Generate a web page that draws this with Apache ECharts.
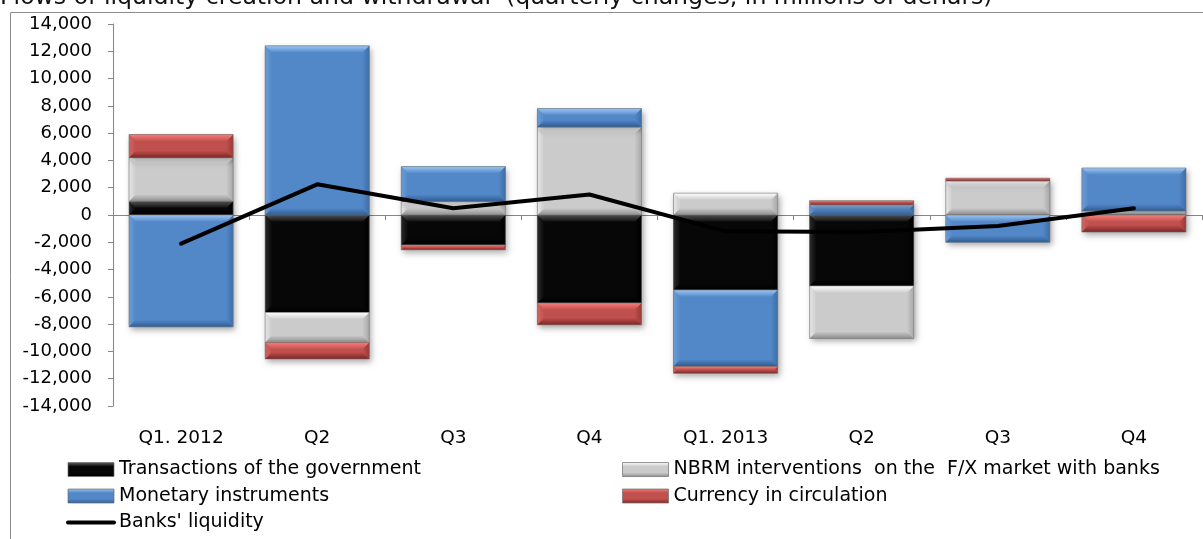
<!DOCTYPE html>
<html>
<head>
<meta charset="utf-8">
<title>Flows of liquidity creation and withdrawal</title>
<script src="https://cdn.jsdelivr.net/npm/echarts@6/dist/echarts.min.js"></script>
<style>
  html, body { margin: 0; padding: 0; background: #ffffff; }
  #chart { width: 1203px; height: 539px; }
</style>
</head>
<body>
<div id="chart"></div>
<script>
// Quarterly changes, millions of denars
const categories = ['Q1. 2012', 'Q2', 'Q3', 'Q4', 'Q1. 2013', 'Q2', 'Q3', 'Q4'];
const government = [1000, -7150, -2200, -6450, -5500, -5200, 0, 0];
const fxInterventions = [3200, -2200, 1000, 6450, 1600, -3850, 2500, 300];
const monetaryInstruments = [-8200, 12400, 2550, 1350, -5600, 750, -2000, 3150];
const currencyInCirculation = [1700, -1200, -350, -1600, -500, 300, 200, -1250];
const banksLiquidity = [-2100, 2250, 500, 1500, -1200, -1250, -800, 500];
const yMin = -14000;
const yMax = 14000;
const yStep = 2000;

const FONT = 'DejaVu Sans';
const AXIS_GREY = '#868686';

const seriesDefs = [
  { name: 'Transactions of the government', values: government,
    pal: { base: '#070707', light: '#6a6a6a', dark: '#000000', left: '#2a2a2a', right: '#000000' } },
  { name: 'NBRM interventions  on the  F/X market with banks', values: fxInterventions,
    pal: { base: '#cbcbcb', light: '#ffffff', dark: '#8e8e8e', left: '#e6e6e6', right: '#a8a8a8' } },
  { name: 'Monetary instruments', values: monetaryInstruments,
    pal: { base: '#5287c8', light: '#9cc6f2', dark: '#2f5d92', left: '#6b9cd6', right: '#3e6ea7' } },
  { name: 'Currency in circulation', values: currencyInCirculation,
    pal: { base: '#c0504d', light: '#f77d7a', dark: '#7a2624', left: '#d06461', right: '#9a3a37' } }
];

function vGrad(stops) {
  return { type: 'linear', x: 0, y: 0, x2: 0, y2: 1,
    colorStops: stops.map(s => ({ offset: s[0], color: s[1] })) };
}
function hGrad(stops) {
  return { type: 'linear', x: 0, y: 0, x2: 1, y2: 0,
    colorStops: stops.map(s => ({ offset: s[0], color: s[1] })) };
}

// Stacked segments: positives build upward from zero, negatives downward
const posAcc = categories.map(() => 0);
const negAcc = categories.map(() => 0);
const segments = seriesDefs.map(def => def.values.map((v, i) => {
  if (v >= 0) { const s = posAcc[i]; posAcc[i] += v; return [i, s, s + v]; }
  const s = negAcc[i]; negAcc[i] += v; return [i, s, s + v];
}));

// Bevelled bar segment drawn in axis coordinates
function bevelRenderer(pal) {
  return function (params, api) {
    const cat = api.value(0);
    const v0 = api.value(1);
    const v1 = api.value(2);
    if (v0 === v1) return null;
    const p0 = api.coord([cat, v0]);
    const p1 = api.coord([cat, v1]);
    const w = api.size([1, 0])[0] * 0.765;
    const x = p0[0] - w / 2;
    const top = Math.min(p0[1], p1[1]);
    const bottom = Math.max(p0[1], p1[1]);
    const h = bottom - top;
    const b = Math.min(7, h / 2);
    return {
      type: 'group',
      children: [
        { type: 'rect', shape: { x: x, y: top, width: w, height: h },
          style: { fill: pal.base, shadowBlur: 6, shadowOffsetX: 2, shadowOffsetY: 3,
                   shadowColor: 'rgba(0,0,0,0.35)' } },
        { type: 'polygon', shape: { points: [[x, top], [x + b, top + b], [x + b, bottom - b], [x, bottom]] },
          style: { fill: hGrad([[0, pal.left], [1, pal.base]]) } },
        { type: 'polygon', shape: { points: [[x + w, top], [x + w - b, top + b], [x + w - b, bottom - b], [x + w, bottom]] },
          style: { fill: hGrad([[0, pal.base], [1, pal.right]]) } },
        { type: 'polygon', shape: { points: [[x, top], [x + w, top], [x + w - b, top + b], [x + b, top + b]] },
          style: { fill: vGrad([[0, pal.light], [1, pal.base]]) } },
        { type: 'polygon', shape: { points: [[x, bottom], [x + w, bottom], [x + w - b, bottom - b], [x + b, bottom - b]] },
          style: { fill: vGrad([[0, pal.base], [1, pal.dark]]) } },
        { type: 'rect', shape: { x: x, y: top, width: w, height: h },
          style: { fill: 'none', stroke: 'rgba(110,110,110,0.55)', lineWidth: 1 } }
      ]
    };
  };
}

const barSeries = seriesDefs.map((def, k) => ({
  type: 'custom',
  name: def.name,
  xAxisIndex: 0,
  yAxisIndex: 0,
  renderItem: bevelRenderer(def.pal),
  itemStyle: { color: def.pal.base },
  encode: { x: 0, y: [1, 2] },
  data: segments[k],
  z: 2
}));

const lineSeries = {
  type: 'line',
  name: "Banks' liquidity",
  xAxisIndex: 0,
  yAxisIndex: 0,
  data: banksLiquidity,
  symbol: 'none',
  lineStyle: { color: '#000000', width: 4, cap: 'round', join: 'round' },
  itemStyle: { color: '#000000' },
  z: 5
};

function legendBar(def) {
  const p = def.pal;
  return {
    name: def.name,
    icon: 'rect',
    itemStyle: {
      color: vGrad([[0, p.light], [0.3, p.base], [0.7, p.base], [1, p.dark]]),
      borderColor: 'rgba(110,110,110,0.7)',
      borderWidth: 1
    }
  };
}

const legendCommon = {
  orient: 'vertical',
  top: 460,
  itemWidth: 46,
  itemHeight: 14,
  itemGap: 7.5,
  padding: 0,
  selectedMode: false,
  textStyle: { fontFamily: FONT, fontSize: 19, color: '#000000' }
};

const chart = echarts.init(document.getElementById('chart'), null, { renderer: 'canvas' });

chart.setOption({
  animation: false,
  backgroundColor: '#ffffff',
  textStyle: { fontFamily: FONT },
  grid: { left: 113, right: 1, top: 24, bottom: 133, containLabel: false, outerBoundsMode: 'none' },
  graphic: [
    { type: 'rect', silent: true, z: 0,
      shape: { x: 10.5, y: 12.5, width: 1300, height: 600 },
      style: { fill: 'none', stroke: '#8c8c8c', lineWidth: 1 } },
    { type: 'text', silent: true, z: 10,
      style: { x: 0, y: -2, text: 'Flows of liquidity creation and withdrawal  (quarterly changes, in millions of denars)',
               fontFamily: FONT, fontSize: 23.6, fill: '#111111', textAlign: 'left', textVerticalAlign: 'middle' } }
  ],
  legend: [
    Object.assign({}, legendCommon, {
      left: 66,
      data: [
        legendBar(seriesDefs[0]),
        legendBar(seriesDefs[2]),
        { name: "Banks' liquidity", itemStyle: { opacity: 0 }, lineStyle: { width: 4, color: '#000000' } }
      ]
    }),
    Object.assign({}, legendCommon, {
      left: 622,
      data: [legendBar(seriesDefs[1]), legendBar(seriesDefs[3])]
    })
  ],
  xAxis: [
    {
      type: 'category',
      data: categories,
      position: 'bottom',
      boundaryGap: true,
      axisLine: { show: false, onZero: false },
      axisTick: { show: false },
      axisLabel: { fontFamily: FONT, fontSize: 18.5, color: '#000000', margin: 23, interval: 0 },
      splitLine: { show: false }
    },
    {
      type: 'category',
      data: categories,
      position: 'top',
      boundaryGap: true,
      axisLine: { show: true, onZero: true, lineStyle: { color: AXIS_GREY, width: 1 } },
      axisTick: { show: true, inside: true, length: 5, interval: 0, lineStyle: { color: AXIS_GREY } },
      axisLabel: { show: false },
      splitLine: { show: false }
    }
  ],
  yAxis: {
    type: 'value',
    min: yMin,
    max: yMax,
    interval: yStep,
    axisLine: { show: true, lineStyle: { color: AXIS_GREY, width: 1 } },
    axisTick: { show: true, length: 5, lineStyle: { color: AXIS_GREY } },
    axisLabel: {
      fontFamily: FONT, fontSize: 18, color: '#000000', margin: 21,
      formatter: v => v.toLocaleString('en-US')
    },
    splitLine: { show: false }
  },
  series: barSeries.concat([lineSeries])
});
</script>
</body>
</html>
